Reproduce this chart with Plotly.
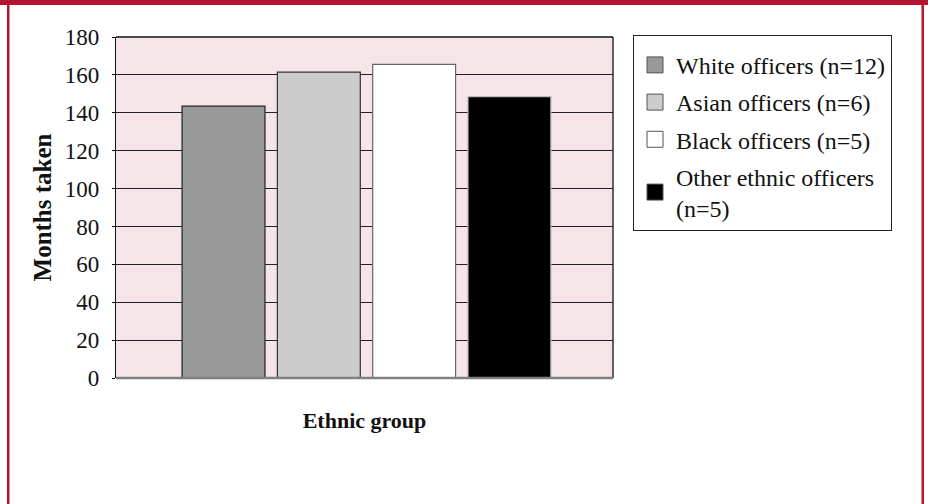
import plotly.graph_objects as go

# Mean time taken (months) by ethnic group
groups = ["White officers (n=12)", "Asian officers (n=6)",
          "Black officers (n=5)", "Other ethnic officers<br>(n=5)"]
months = [143.5, 161.5, 165.5, 148.5]
fills = ["#999999", "#CCCCCC", "#FFFFFF", "#000000"]
edges = ["#222222", "#333333", "#666666", "#BBBBBB"]
y_ticks = [0, 20, 40, 60, 80, 100, 120, 140, 160, 180]

FONT = "Liberation Serif, Times New Roman, serif"
RED = "#B5132F"

fig = go.Figure()
for i, (name, val, fc, ec) in enumerate(zip(groups, months, fills, edges)):
    fig.add_trace(go.Bar(
        x=["Ethnic group"], y=[val], name=name,
        marker=dict(color=fc, line=dict(color=ec, width=1.2)),
        legendgroup=f"g{i}", showlegend=False,
        hoverinfo="y",
    ))
    # square legend key, larger than the default bar swatch
    fig.add_trace(go.Scatter(
        x=[None], y=[None], mode="markers", name=name,
        marker=dict(symbol="square", size=16, color=fc,
                    line=dict(color="#555555", width=1)),
        legendgroup=f"g{i}", showlegend=True, hoverinfo="skip",
    ))

# plot area in pixels: x 116..613, y 37..378
L, R, T, B = 116, 613, 37, 378
W, H = 928, 504
pw, ph = R - L, B - T


def px(x):
    return (x - L) / pw


def py(y):
    return (B - y) / ph


shapes = [
    # red frame: band across the top, thin rules down both sides
    dict(type="rect", xref="paper", yref="paper", x0=px(0), x1=px(W),
         y0=py(5), y1=py(-2), fillcolor=RED, line_width=0, layer="above"),
    dict(type="rect", xref="paper", yref="paper", x0=px(7), x1=px(9.5),
         y0=py(H + 2), y1=py(0), fillcolor=RED, line_width=0, layer="above"),
    dict(type="rect", xref="paper", yref="paper", x0=px(921.5), x1=px(924),
         y0=py(H + 2), y1=py(0), fillcolor=RED, line_width=0, layer="above"),
    # plot frame: top and right edges
    dict(type="line", xref="paper", yref="paper", x0=0, x1=1, y0=1, y1=1,
         line=dict(color="#111111", width=1.3)),
    dict(type="line", xref="paper", yref="paper", x0=1, x1=1, y0=0, y1=1,
         line=dict(color="#111111", width=1.3)),
    # zero baseline
    dict(type="line", xref="paper", yref="paper", x0=0, x1=1, y0=0, y1=0,
         line=dict(color="#808080", width=2.5), layer="above"),
]

fig.update_layout(
    width=W, height=H,
    margin=dict(l=L, r=W - R, t=T, b=H - B, pad=0),
    paper_bgcolor="white",
    plot_bgcolor="#F5E4E8",
    font=dict(family=FONT, size=22, color="#111111"),
    barmode="group",
    bargap=0.233,
    bargroupgap=0.13,
    showlegend=True,
    legend=dict(
        x=px(633), y=1.005, xanchor="left", yanchor="top",
        bgcolor="white", bordercolor="#222222", borderwidth=1,
        font=dict(family=FONT, size=24, color="#111111"),
        title=dict(text=" ", font=dict(size=5)),
        tracegroupgap=3,
        itemwidth=32,
    ),
    xaxis=dict(
        range=[-0.504, 0.496],
        showticklabels=False, ticks="", showline=False,
        title=dict(text="<b>Ethnic group</b>", standoff=34,
                   font=dict(family=FONT, size=22)),
    ),
    yaxis=dict(
        range=[0, 180], tickvals=y_ticks, ticks="outside", ticklen=3,
        tickcolor="#111111", tickwidth=1, ticklabelstandoff=8,
        showline=True, linecolor="#111111", linewidth=1.3,
        showgrid=True, gridcolor="#222222", gridwidth=1.2,
        zeroline=False,
        tickfont=dict(family=FONT, size=23, color="#111111"),
        title=dict(text="<b>Months taken</b>", standoff=6,
                   font=dict(family=FONT, size=25)),
    ),
    shapes=shapes,
)

fig.write_html("out.html")
